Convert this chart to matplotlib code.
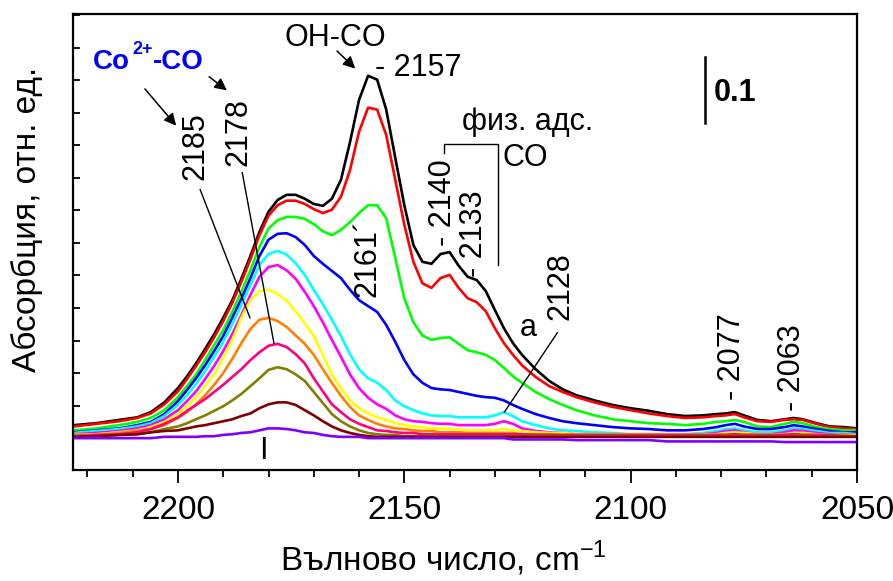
import matplotlib
matplotlib.use("Agg")
import matplotlib.pyplot as plt
from matplotlib.ticker import MultipleLocator

plt.rcParams['font.family'] = ['Liberation Sans', 'DejaVu Sans']
plt.rcParams['mathtext.fontset'] = 'custom'
plt.rcParams['mathtext.rm'] = 'Liberation Sans'
plt.rcParams['mathtext.bf'] = 'Liberation Sans:bold'

# wavenumber grid, cm-1
wn = [2223, 2218, 2213, 2209, 2206, 2203, 2200, 2198, 2196, 2194,
      2192, 2190, 2188, 2186, 2184, 2182, 2180, 2178, 2176, 2174,
      2172, 2170, 2168, 2166, 2164, 2162, 2160, 2158, 2156, 2154,
      2152, 2150, 2148, 2146, 2144, 2142, 2140, 2138, 2136, 2134,
      2132, 2130, 2128, 2126, 2124, 2121, 2118, 2115, 2112, 2108,
      2104, 2100, 2096, 2092, 2088, 2084, 2081, 2079, 2077, 2075,
      2072, 2069, 2066, 2064, 2062, 2059, 2056, 2053, 2050]

# absorbance of each spectrum (top to bottom)
a_black = [.020, .023, .028, .032, .040, .055, .077, .095, .115, .137,
           .160, .185, .212, .245, .280, .317, .348, .366, .374, .374,
           .368, .360, .357, .368, .397, .455, .520, .557, .551, .505,
           .431, .358, .297, .271, .268, .283, .286, .265, .248, .243,
           .226, .197, .169, .146, .128, .106, .088, .075, .066, .058,
           .051, .046, .042, .037, .034, .035, .037, .038, .040, .035,
           .028, .026, .029, .031, .029, .023, .018, .017, .015]
a_red = [.018, .022, .026, .031, .038, .052, .072, .091, .111, .132,
         .155, .180, .208, .240, .275, .312, .342, .358, .365, .365,
         .360, .352, .346, .351, .371, .412, .471, .508, .505, .466,
         .397, .328, .271, .238, .231, .246, .251, .231, .215, .209,
         .195, .169, .146, .128, .112, .094, .080, .071, .063, .055,
         .048, .043, .038, .034, .031, .032, .034, .035, .037, .032,
         .026, .025, .028, .029, .028, .022, .017, .015, .014]
a_green = [.012, .015, .020, .025, .031, .043, .063, .080, .098, .120,
           .143, .166, .194, .225, .258, .294, .322, .335, .340, .340,
           .337, .329, .318, .312, .320, .332, .346, .358, .358, .338,
           .277, .215, .178, .158, .151, .154, .155, .145, .135, .132,
           .128, .120, .108, .095, .085, .071, .060, .051, .043, .035,
           .029, .026, .023, .022, .020, .022, .025, .026, .028, .025,
           .018, .017, .022, .025, .023, .017, .014, .012, .012]
a_blue = [.009, .012, .015, .020, .025, .037, .057, .074, .092, .112,
          .134, .157, .185, .214, .246, .280, .305, .314, .315, .309,
          .297, .280, .268, .257, .246, .228, .212, .203, .194, .174,
          .148, .120, .098, .085, .077, .075, .074, .071, .068, .065,
          .063, .062, .058, .051, .045, .037, .031, .026, .023, .020,
          .017, .015, .014, .012, .012, .014, .017, .020, .022, .018,
          .014, .014, .017, .020, .018, .014, .011, .009, .009]
a_cyan = [.008, .011, .014, .018, .023, .034, .051, .066, .083, .103,
          .125, .148, .175, .205, .235, .266, .283, .288, .282, .269,
          .251, .228, .206, .182, .157, .129, .106, .092, .085, .074,
          .058, .049, .043, .038, .035, .034, .034, .032, .032, .032,
          .032, .035, .040, .034, .026, .020, .015, .012, .011, .009,
          .008, .006, .006, .006, .006, .008, .011, .014, .015, .012,
          .009, .009, .012, .015, .014, .011, .008, .008, .006]
a_magenta = [.006, .008, .011, .015, .020, .029, .043, .057, .072, .091,
             .111, .134, .160, .189, .220, .248, .263, .266, .258, .245,
             .225, .203, .178, .151, .125, .098, .077, .062, .052, .045,
             .035, .029, .026, .025, .023, .022, .022, .020, .020, .020,
             .020, .022, .026, .022, .015, .011, .009, .008, .006, .006,
             .006, .006, .006, .006, .006, .006, .008, .011, .012, .009,
             .006, .006, .009, .012, .011, .008, .006, .006, .005]
a_yellow = [.005, .006, .009, .012, .017, .025, .037, .049, .063, .080,
            .098, .123, .151, .185, .212, .226, .228, .222, .211, .195,
            .177, .157, .128, .098, .077, .058, .046, .038, .032, .028,
            .023, .020, .018, .017, .015, .015, .014, .014, .012, .012,
            .012, .012, .014, .012, .011, .009, .008, .008, .006, .006,
            .006, .006, .006, .006, .006, .006, .006, .008, .009, .008,
            .006, .006, .006, .008, .008, .006, .005, .005, .005]
a_orange = [.005, .005, .008, .011, .014, .020, .031, .040, .052, .066,
            .082, .100, .122, .146, .168, .182, .185, .180, .171, .158,
            .145, .128, .106, .085, .065, .048, .035, .028, .022, .018,
            .015, .014, .012, .011, .011, .009, .009, .009, .008, .008,
            .008, .008, .008, .008, .006, .006, .006, .005, .005, .005,
            .005, .005, .005, .005, .005, .005, .005, .005, .006, .005,
            .005, .005, .005, .006, .005, .005, .005, .005, .003]
a_pink = [.003, .005, .006, .009, .014, .022, .032, .042, .051, .060,
          .071, .082, .094, .106, .120, .132, .142, .145, .140, .129,
          .115, .092, .072, .052, .040, .029, .022, .017, .012, .011,
          .009, .008, .008, .006, .006, .006, .006, .006, .006, .006,
          .006, .006, .006, .006, .006, .005, .005, .005, .005, .005,
          .005, .005, .005, .005, .005, .005, .005, .005, .006, .005,
          .005, .005, .005, .006, .005, .005, .005, .003, .003]
a_olive = [.003, .003, .005, .006, .009, .014, .018, .023, .029, .035,
           .042, .049, .058, .068, .080, .092, .105, .109, .106, .098,
           .088, .071, .054, .037, .026, .018, .012, .008, .006, .005,
           .005, .003, .003, .003, .003, .003, .003, .003, .003, .003,
           .003, .003, .003, .003, .003, .003, .003, .003, .003, .003,
           .003, .003, .003, .003, .003, .003, .003, .003, .003, .003,
           .003, .003, .003, .003, .003, .003, .003, .003, .003]
a_maroon = [.002, .003, .005, .006, .009, .011, .012, .015, .018, .020,
            .023, .026, .029, .034, .038, .046, .052, .055, .055, .051,
            .043, .035, .026, .018, .012, .008, .005, .003, .002, .002,
            .002, .002, .002, .002, .002, .002, .002, .002, .002, .002,
            .002, .002, .002, .002, .002, .002, .002, .002, .002, .002,
            .002, .002, .002, .002, .002, .002, .002, .002, .002, .002,
            .002, .002, .002, .002, .002, .002, .002, .002, .002]
a_violet = [0, 0, 0, 0, 0, .002, .002, .002, .002, .003,
            .003, .005, .006, .008, .009, .012, .015, .015, .014, .012,
            .009, .008, .005, .003, .002, .002, .002, 0, 0, 0,
            0, 0, 0, 0, 0, 0, 0, 0, 0, 0,
            0, 0, 0, -.002, -.002, -.002, -.002, -.002, -.003, -.003,
            -.003, -.003, -.003, -.005, -.005, -.005, -.005, -.005, -.005, -.005,
            -.005, -.005, -.006, -.006, -.006, -.006, -.006, -.006, -.006]

spectra = [a_black, a_red, a_green, a_blue, a_cyan, a_magenta, a_yellow,
           a_orange, a_pink, a_olive, a_maroon, a_violet]
colors = ['#000000', '#FF0000', '#00FF00', '#0000FF', '#00FFFF', '#FF00FF',
          '#FFFF00', '#FF8000', '#FF0080', '#808000', '#800000', '#8000FF']

fig = plt.figure(figsize=(8.93, 5.81), dpi=100)
ax = fig.add_axes([0.0817, 0.191, 0.878, 0.785])

for y, c in zip(spectra, colors):
    ax.plot(wn, y, color=c, lw=1.9, solid_joinstyle='round')

ax.set_xlim(2223.2, 2050)
ax.set_ylim(-0.049, 0.652)

ax.xaxis.set_major_locator(MultipleLocator(50))
ax.xaxis.set_minor_locator(MultipleLocator(10))
ax.yaxis.set_major_locator(MultipleLocator(0.05))
ax.tick_params(axis='x', which='major', direction='out', length=9, width=1.3,
               labelsize=24, pad=9, top=False)
ax.tick_params(axis='x', which='minor', direction='out', length=5, width=1.3, top=False)
ax.tick_params(axis='y', which='major', direction='in', length=5, width=1.3,
               labelleft=False, right=False)
for s in ax.spines.values():
    s.set_linewidth(1.6)

ax.set_xlabel('Вълново число, cm$^{-1}$', fontsize=24)
ax.set_ylabel('Абсорбция, отн. ед.', fontsize=24)
ax.xaxis.set_label_coords(0.472, -0.15)
ax.yaxis.set_label_coords(-0.038, 0.55)

fs = 22
arrow = dict(arrowstyle='-|>', color='k', lw=1.1, mutation_scale=18)
ax.text(2165.3, .615, 'OH-CO', fontsize=fs, ha='center', va='center')
ax.annotate('', xy=(2160.4, .565), xytext=(2165.3, .598), arrowprops=arrow)
ax.text(2156.4, .569, '- 2157', fontsize=fs, ha='left', va='center')

blue_txt = dict(fontweight='bold', color='#0000FF', va='center')
ax.text(2218.8, .578, 'Co', fontsize=20, ha='left', **blue_txt)
ax.text(2210.0, .598, '2+', fontsize=13, ha='left', **blue_txt)
ax.text(2205.6, .578, '-CO', fontsize=20, ha='left', **blue_txt)
ax.annotate('', xy=(2200, .477), xytext=(2207.7, .540), arrowprops=arrow)
ax.annotate('', xy=(2188.7, .532), xytext=(2193.6, .558), arrowprops=arrow)

rot = dict(rotation=90, ha='center', va='center', fontsize=fs, rotation_mode='anchor')
ax.text(2196.2, .449, '2185', **rot)
ax.text(2186.7, .471, '2178', **rot)
ax.plot([2195.1, 2184.1], [.382, .185], color='k', lw=1)
ax.plot([2185.8, 2178.8], [.408, .146], color='k', lw=1)

ax.text(2158.2, .277, '2161´', **rot)
ax.text(2141.4, .362, '- 2140', **rot)
ax.text(2134.7, .315, '- 2133', **rot)

ax.text(2122.8, .486, 'физ. адс.', fontsize=fs, ha='center', va='center')
ax.text(2123.2, .431, 'CO', fontsize=fs, ha='center', va='center')
ax.plot([2141.2, 2141.2, 2129.4, 2129.4], [.438, .452, .452, .266], color='k', lw=1)

ax.text(2122.6, .169, 'a', fontsize=fs, ha='center', va='center')
ax.text(2115.5, .234, '2128', **rot)
ax.plot([2116.2, 2127.9], [.162, .040], color='k', lw=1)

ax.text(2077.7, .125, '- 2077', **rot)
ax.text(2064.4, .108, '- 2063', **rot)
ax.text(2181.2, -.020, 'I', fontsize=fs, ha='center', va='center')

ax.plot([2083.5, 2083.5], [.485, .586], color='k', lw=1.8)
ax.text(2081.7, .531, '0.1', fontsize=fs, fontweight='bold', ha='left', va='center')

fig.savefig('out.png', dpi=100)
